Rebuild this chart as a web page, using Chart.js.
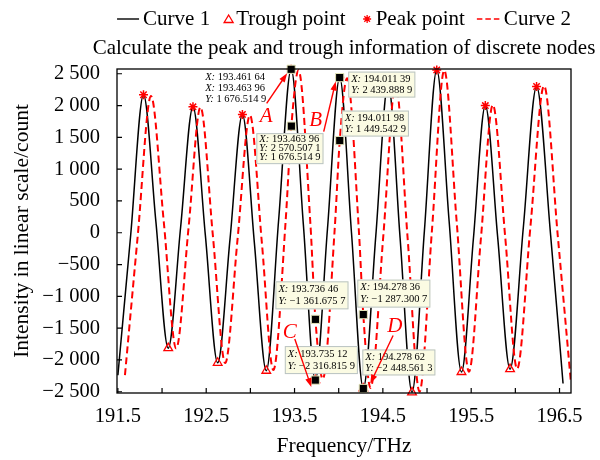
<!DOCTYPE html>
<html>
<head>
<meta charset="utf-8">
<script src="https://cdn.jsdelivr.net/npm/chart.js@4.4.1/dist/chart.umd.min.js"></script>
<style>
  html, body { margin: 0; padding: 0; background: #fff; }
</style>
</head>
<body>
<canvas id="myChart" width="600" height="460"></canvas>
<script>
// 곡선 1 (검은 실선)
const curve1X = [191.50, 191.645, 191.79, 191.93, 192.07, 192.21, 192.35, 192.49, 192.63, 192.77, 192.91, 193.045, 193.18, 193.32, 193.46164, 193.60, 193.73512, 193.873, 194.01139, 194.145, 194.27862, 194.42, 194.56, 194.695, 194.83, 194.97, 195.11, 195.25, 195.39, 195.525, 195.66, 195.80, 195.94, 196.09, 196.24, 196.40, 196.54];
const curve1Y = [-2240, -35, 2170, 178, -1815, 83, 1980, -33, -2045, -93, 1860, -155, -2170, 200, 2570.5071, 127, -2316.8159, 62, 2439.8889, -4, -2448.5613, -50, 2350, -80, -2510, 25, 2560, 185, -2190, -95, 2000, -73, -2145, 78, 2300, -50, -2370];

// 곡선 2 (빨간 점선)
const curve2X = [191.58, 191.725, 191.875, 192.02, 192.16, 192.30, 192.435, 192.575, 192.715, 192.855, 192.995, 193.13, 193.26, 193.40, 193.46396, 193.545, 193.68, 193.73646, 193.82, 193.955, 194.01198, 194.095, 194.23, 194.27836, 194.36, 194.505, 194.645, 194.78, 194.915, 195.055, 195.195, 195.335, 195.475, 195.61, 195.745, 195.885, 196.02, 196.17, 196.325, 196.48, 196.63];
const curve2Y = [-2240, -45, 2150, 165, -1820, 78, 1975, -38, -2050, -100, 1850, -155, -2160, 200, 1676.5149, 2555, 130, -1361.6757, -2300, 65, 1449.5429, 2430, -5, -1287.3007, -2440, -50, 2340, -80, -2500, 25, 2555, 185, -2185, -90, 2010, -65, -2140, 85, 2310, -45, -2370];

// 피크 / 골 점
const peakX = [191.79, 192.35, 192.91, 193.46164, 194.01139, 194.56, 195.11, 195.66, 196.24];
const peakY = [2170, 1980, 1860, 2570.5071, 2439.8889, 2350, 2560, 2000, 2300];
const troughX = [192.07, 192.63, 193.18, 193.73512, 194.27862, 194.83, 195.39, 195.94];
const troughY = [-1815, -2045, -2170, -2316.8159, -2448.5613, -2510, -2190, -2145];

// 데이터 팁 점
const tipX = [193.46164, 193.46396, 194.01139, 194.01198, 193.73646, 193.73512, 194.27836, 194.27862];
const tipY = [2570.5071, 1676.5149, 2439.8889, 1449.5429, -1361.6757, -2316.8159, -1287.3007, -2448.5613];

// 눈금
const xTicks = [191.5, 192, 192.5, 193, 193.5, 194, 194.5, 195, 195.5, 196, 196.5];
const xLabelTicks = [191.5, 192.5, 193.5, 194.5, 195.5, 196.5];
const yTicks = [-2500, -2000, -1500, -1000, -500, 0, 500, 1000, 1500, 2000, 2500];

const legendLabels = ['Curve 1', 'Trough point', 'Peak point', 'Curve 2'];
const titleText = 'Calculate the peak and trough information of discrete nodes';

const SERIF = '"Liberation Serif", "Times New Roman", serif';
const RED = '#ff0000';

const pts = (xs, ys) => xs.map((x, i) => ({ x: x, y: ys[i] }));

function group3(s) {
  return s.replace(/\B(?=(\d{3})+(?!\d))/g, ' ');
}
function fmtNum(v, dec) {
  const neg = v < 0;
  const parts = Math.abs(v).toFixed(dec).split('.');
  let out = group3(parts[0]);
  if (parts[1]) out += '.' + parts[1].replace(/(\d{3})(?=\d)/g, '$1 ');
  return (neg ? '\u2212' : '') + out;
}

// 데이터 팁 상자 (앵커 = tip 인덱스, 픽셀 오프셋)
const tipBoxes = [
  { at: 1, dx: -35, dy: 7, lh: 9, lines: [['X', 1], ['Y', 0], ['Y', 1]] },
  { at: 2, dx: 8.5, dy: -6, lh: 11, lines: [['X', 2], ['Y', 2]] },
  { at: 3, dx: 2, dy: -30, lh: 11, lines: [['X', 3], ['Y', 3]] },
  { at: 4, dx: -40, dy: -38, lh: 12, lines: [['X', 4], ['Y', 4]] },
  { at: 5, dx: -30.5, dy: -34, lh: 12, lines: [['X', 5], ['Y', 5]] },
  { at: 6, dx: -6, dy: -35, lh: 12, lines: [['X', 6], ['Y', 6]] },
  { at: 7, dx: -1, dy: -39, lh: 11, lines: [['X', 7], ['Y', 7]] }
];
const plainTip = { at: 0, dx: -86, dy: 7.5, lh: 11.4, lines: [['X', 0], ['X', 1], ['Y', 1]] };

// A B C D 표시와 화살표
const marks = [
  { text: 'A', at: 0, lx: -25, ly: 47, ax: [-24.5, 34], ah: [-4, 4] },
  { text: 'B', at: 2, lx: -24, ly: 43, ax: [-16, 54], ah: [-4, 4] },
  { text: 'C', at: 5, lx: -25.5, ly: -48, ax: [-20.5, -41], ah: [-4, 7] },
  { text: 'D', at: 7, lx: 31.5, ly: -62, ax: [29.8, -53], ah: [7, -5] }
];

function tipLine(ctx, x, y, axis, idx) {
  const val = axis === 'X' ? fmtNum(tipX[idx], 5) : fmtNum(tipY[idx], 4);
  ctx.font = 'italic 10.5px ' + SERIF;
  ctx.fillText(axis + ':', x, y);
  const w = ctx.measureText(axis + ':').width;
  ctx.font = '10.5px ' + SERIF;
  ctx.fillText(' ' + val, x + w, y);
}
function tipWidth(ctx, axis, idx) {
  const val = axis === 'X' ? fmtNum(tipX[idx], 5) : fmtNum(tipY[idx], 4);
  ctx.font = 'italic 10.5px ' + SERIF;
  const w = ctx.measureText(axis + ':').width;
  ctx.font = '10.5px ' + SERIF;
  return w + ctx.measureText(' ' + val).width;
}

function arrow(ctx, x1, y1, x2, y2) {
  const a = Math.atan2(y2 - y1, x2 - x1), L = 9, W = 3.2;
  ctx.beginPath();
  ctx.moveTo(x1, y1);
  ctx.lineTo(x2 - L * 0.7 * Math.cos(a), y2 - L * 0.7 * Math.sin(a));
  ctx.stroke();
  ctx.beginPath();
  ctx.moveTo(x2, y2);
  ctx.lineTo(x2 - L * Math.cos(a) + W * Math.sin(a), y2 - L * Math.sin(a) - W * Math.cos(a));
  ctx.lineTo(x2 - L * Math.cos(a) - W * Math.sin(a), y2 - L * Math.sin(a) + W * Math.cos(a));
  ctx.closePath();
  ctx.fill();
}

// 범례 (플롯 영역 중앙 기준)
function drawLegend(ctx, cxPlot) {
  ctx.save();
  ctx.font = '21px ' + SERIF;
  ctx.textBaseline = 'middle';
  const icon = [22, 9, 9, 23], iconGap = [4, 3, 4, 4], sep = [14, 17, 12, 0];
  let total = 0;
  legendLabels.forEach((l, i) => { total += icon[i] + iconGap[i] + ctx.measureText(l).width + sep[i]; });
  let x = cxPlot - total / 2;
  const y = 19;
  legendLabels.forEach((l, i) => {
    const cx = x + icon[i] / 2;
    ctx.lineWidth = 1.4;
    if (i === 0) {
      ctx.strokeStyle = '#000';
      ctx.beginPath(); ctx.moveTo(x, y); ctx.lineTo(x + icon[i], y); ctx.stroke();
    } else if (i === 1) {
      ctx.strokeStyle = RED;
      ctx.lineWidth = 1.3;
      ctx.beginPath();
      ctx.moveTo(cx, y - 4); ctx.lineTo(cx + 4.5, y + 3.5); ctx.lineTo(cx - 4.5, y + 3.5); ctx.closePath();
      ctx.stroke();
    } else if (i === 2) {
      ctx.strokeStyle = RED;
      ctx.lineWidth = 1.3;
      ctx.beginPath();
      for (let k = 0; k < 4; k++) {
        const a = k * Math.PI / 4;
        ctx.moveTo(cx - 4 * Math.cos(a), y - 4 * Math.sin(a));
        ctx.lineTo(cx + 4 * Math.cos(a), y + 4 * Math.sin(a));
      }
      ctx.stroke();
    } else {
      ctx.strokeStyle = RED;
      ctx.setLineDash([5.5, 3]);
      ctx.beginPath(); ctx.moveTo(x, y); ctx.lineTo(x + icon[i], y); ctx.stroke();
      ctx.setLineDash([]);
    }
    x += icon[i] + iconGap[i];
    ctx.fillStyle = '#000';
    ctx.fillText(l, x, y);
    x += ctx.measureText(l).width + sep[i];
  });
  ctx.restore();
}

const decorPlugin = {
  id: 'decor',
  afterDraw(chart) {
    const ctx = chart.ctx;
    const xs = chart.scales.x, ys = chart.scales.y;
    const area = chart.chartArea;
    const px = i => xs.getPixelForValue(tipX[i]);
    const py = i => ys.getPixelForValue(tipY[i]);
    const cxPlot = (area.left + area.right) / 2;

    ctx.save();
    // 테두리
    ctx.strokeStyle = '#000';
    ctx.lineWidth = 1.3;
    ctx.strokeRect(area.left, area.top, area.right - area.left, area.bottom - area.top);
    // 안쪽 눈금
    ctx.lineWidth = 1.2;
    ctx.beginPath();
    xTicks.forEach(v => {
      const p = xs.getPixelForValue(v);
      ctx.moveTo(p, area.bottom); ctx.lineTo(p, area.bottom - 5);
    });
    yTicks.forEach(v => {
      const p = ys.getPixelForValue(v);
      ctx.moveTo(area.left, p); ctx.lineTo(area.left + 5, p);
    });
    ctx.stroke();

    // 제목
    ctx.fillStyle = '#000';
    ctx.font = '21px ' + SERIF;
    ctx.textAlign = 'center';
    ctx.textBaseline = 'middle';
    ctx.fillText(titleText, cxPlot, 48);
    ctx.textAlign = 'left';

    // 데이터 팁
    plainTip.lines.forEach((ln, k) => {
      tipLine(ctx, px(plainTip.at) + plainTip.dx, py(plainTip.at) + plainTip.dy + k * plainTip.lh, ln[0], ln[1]);
    });
    tipBoxes.forEach(b => {
      const left = px(b.at) + b.dx, top = py(b.at) + b.dy;
      let w = 0;
      b.lines.forEach(ln => { w = Math.max(w, tipWidth(ctx, ln[0], ln[1])); });
      w += 6;
      const h = b.lines.length * b.lh + 4;
      ctx.fillStyle = '#fbfbe3';
      ctx.fillRect(left, top, w, h);
      ctx.strokeStyle = '#b9c3c3';
      ctx.lineWidth = 1;
      ctx.strokeRect(left + 0.5, top + 0.5, w - 1, h - 1);
      ctx.fillStyle = '#000';
      b.lines.forEach((ln, k) => {
        tipLine(ctx, left + 3, top + 2 + b.lh * (k + 0.5), ln[0], ln[1]);
      });
    });

    // A B C D
    ctx.fillStyle = RED;
    ctx.strokeStyle = RED;
    ctx.lineWidth = 1.4;
    marks.forEach(m => {
      const x0 = px(m.at), y0 = py(m.at);
      arrow(ctx, x0 + m.ax[0], y0 + m.ax[1], x0 + m.ah[0], y0 + m.ah[1]);
      ctx.font = 'italic 21px ' + SERIF;
      ctx.textAlign = 'center';
      ctx.fillText(m.text, x0 + m.lx, y0 + m.ly);
      ctx.textAlign = 'left';
    });
    ctx.restore();

    drawLegend(ctx, cxPlot);
  }
};

const ctx = document.getElementById('myChart').getContext('2d');
const myChart = new Chart(ctx, {
  type: 'line',
  data: {
    datasets: [{
      label: legendLabels[0],
      data: pts(curve1X, curve1Y),
      borderColor: '#000',
      borderWidth: 1.5,
      pointRadius: 0,
      cubicInterpolationMode: 'monotone',
      order: 4
    }, {
      label: legendLabels[1],
      data: pts(troughX, troughY),
      showLine: false,
      pointStyle: 'triangle',
      pointRadius: 5,
      pointBorderColor: RED,
      pointBackgroundColor: 'rgba(255,255,255,0)',
      pointBorderWidth: 1.3,
      clip: false,
      order: 2
    }, {
      label: legendLabels[2],
      data: pts(peakX, peakY),
      showLine: false,
      pointStyle: 'star',
      pointRadius: 4.5,
      pointBorderColor: RED,
      pointBackgroundColor: RED,
      pointBorderWidth: 1.5,
      clip: false,
      order: 2
    }, {
      label: legendLabels[3],
      data: pts(curve2X, curve2Y),
      borderColor: RED,
      borderWidth: 2,
      borderDash: [7, 4],
      pointRadius: 0,
      cubicInterpolationMode: 'monotone',
      order: 3
    }, {
      label: 'tips',
      data: pts(tipX, tipY),
      showLine: false,
      pointStyle: 'rect',
      pointRadius: 5.8,
      pointBackgroundColor: '#000',
      pointBorderColor: '#e4e4b8',
      pointBorderWidth: 1,
      clip: false,
      order: 0
    }]
  },
  options: {
    responsive: false,
    animation: false,
    events: [],
    layout: { padding: { top: 69, right: 29, bottom: 0, left: 0 } },
    plugins: {
      legend: { display: false },
      tooltip: { enabled: false },
      title: { display: false }
    },
    scales: {
      x: {
        type: 'linear',
        min: 191.49,
        max: 196.63,
        afterBuildTicks: s => { s.ticks = xTicks.map(v => ({ value: v })); },
        afterFit: s => { s.height = 67; },
        ticks: {
          autoSkip: false,
          maxRotation: 0,
          padding: 11,
          color: '#000',
          font: { family: SERIF, size: 20.5 },
          callback: v => xLabelTicks.includes(v) ? v.toFixed(1) : ''
        },
        grid: { display: false, drawTicks: false },
        border: { display: false },
        title: {
          display: true,
          text: 'Frequency/THz',
          color: '#000',
          font: { family: SERIF, size: 21.5 },
          padding: { top: 0, bottom: 1 }
        }
      },
      y: {
        type: 'linear',
        min: -2520,
        max: 2575,
        afterBuildTicks: s => { s.ticks = yTicks.map(v => ({ value: v })); },
        afterFit: s => { s.width = 117; },
        ticks: {
          padding: 17,
          color: '#000',
          font: { family: SERIF, size: 20.5 },
          callback: v => fmtNum(v, 0)
        },
        grid: { display: false, drawTicks: false },
        border: { display: false },
        title: {
          display: true,
          text: 'Intensity in linear scale/count',
          color: '#000',
          font: { family: SERIF, size: 21.5 },
          padding: { top: 9, bottom: 0 }
        }
      }
    }
  },
  plugins: [decorPlugin]
});
</script>
</body>
</html>
